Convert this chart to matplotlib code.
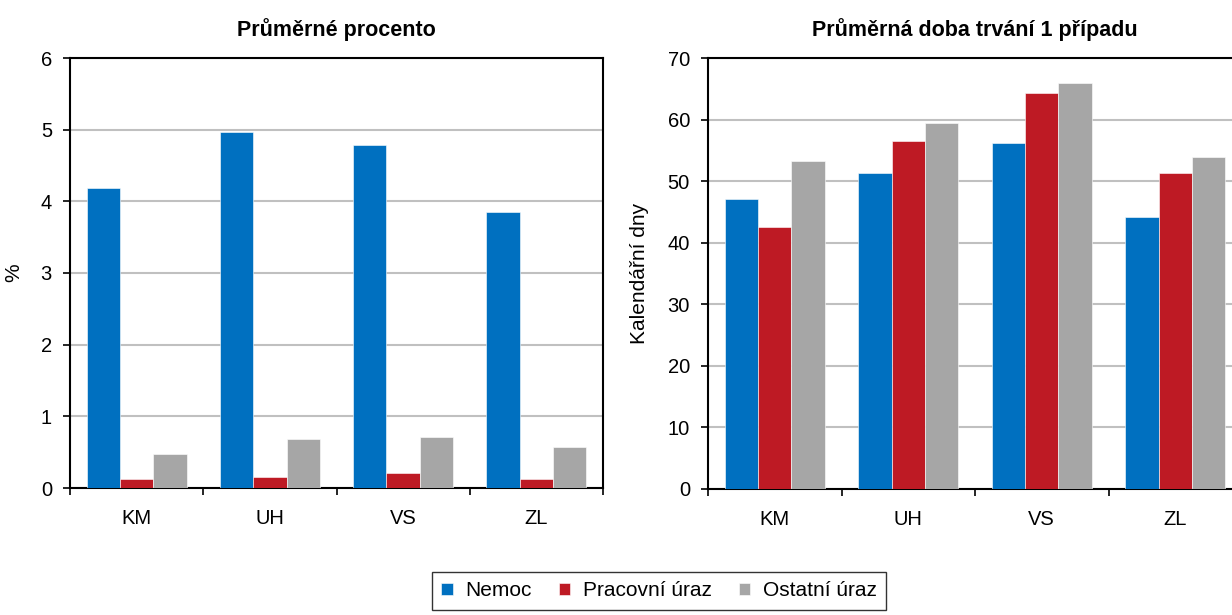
import matplotlib.pyplot as plt
import numpy as np

plt.rcParams['font.family'] = ['Liberation Sans', 'DejaVu Sans']

# data
regions = ['KM', 'UH', 'VS', 'ZL']
series = ['Nemoc', 'Pracovní úraz', 'Ostatní úraz']
colors = ['#0070C0', '#BE1A24', '#A6A6A6']

pct_nemoc = [4.19, 4.97, 4.78, 3.85]
pct_prac = [0.12, 0.15, 0.21, 0.12]
pct_ost = [0.48, 0.69, 0.71, 0.57]

days_nemoc = [47.1, 51.3, 56.2, 44.2]
days_prac = [42.5, 56.5, 64.3, 51.3]
days_ost = [53.3, 59.4, 65.9, 53.9]

fig = plt.figure(figsize=(12.32, 6.15), dpi=100)
ax1 = fig.add_axes([70/1232, 127/615, 533/1232, 430/615])
ax2 = fig.add_axes([708/1232, 126/615, 534/1232, 431/615])

x = np.arange(len(regions))
w = 0.25


def draw(ax, data, ymax, ystep, title, ylabel):
    for i, vals in enumerate(data):
        ax.bar(x + (i - 1) * w, vals, width=w, color=colors[i],
               edgecolor='white', linewidth=0.4, label=series[i], zorder=3)
    ax.set_xlim(-0.5, len(regions) - 0.5)
    ax.set_ylim(0, ymax)
    ax.set_yticks(np.arange(0, ymax + ystep / 2, ystep))
    ax.set_xticks(np.arange(-0.5, len(regions), 1.0))
    ax.set_xticklabels([])
    ax.set_xticks(x, minor=True)
    ax.set_xticklabels(regions, minor=True)
    ax.tick_params(axis='x', which='minor', length=0, pad=15, labelsize=14.5)
    ax.tick_params(axis='x', which='major', direction='out', length=5, width=1.2)
    ax.tick_params(axis='y', direction='out', length=5, width=1.2, labelsize=14.5, pad=8)
    ax.yaxis.grid(True, color='#C0C0C0', linewidth=1.5, zorder=0)
    ax.set_axisbelow(True)
    for s in ax.spines.values():
        s.set_linewidth(1.5)
        s.set_color('black')
    ax.set_title(title, fontsize=15.5, fontweight='bold', pad=16)
    ax.set_ylabel(ylabel, fontsize=15)


draw(ax1, [pct_nemoc, pct_prac, pct_ost], 6, 1, 'Průměrné procento', '%')
draw(ax2, [days_nemoc, days_prac, days_ost], 70, 10,
     'Průměrná doba trvání 1 případu', 'Kalendářní dny')
ax1.yaxis.set_label_coords(-0.087, 0.5)
ax2.yaxis.set_label_coords(-0.11, 0.5)

handles, labels = ax1.get_legend_handles_labels()
leg = fig.legend(handles, labels, loc='center', bbox_to_anchor=(659/1232, 1 - 591/615),
                 ncol=3, fontsize=15, frameon=True, fancybox=False,
                 handlelength=0.55, handleheight=0.55, handletextpad=0.6,
                 columnspacing=1.3, borderpad=0.45, borderaxespad=0)
leg.get_frame().set_edgecolor('black')
leg.get_frame().set_linewidth(1.0)

fig.savefig('out.png', dpi=100)
